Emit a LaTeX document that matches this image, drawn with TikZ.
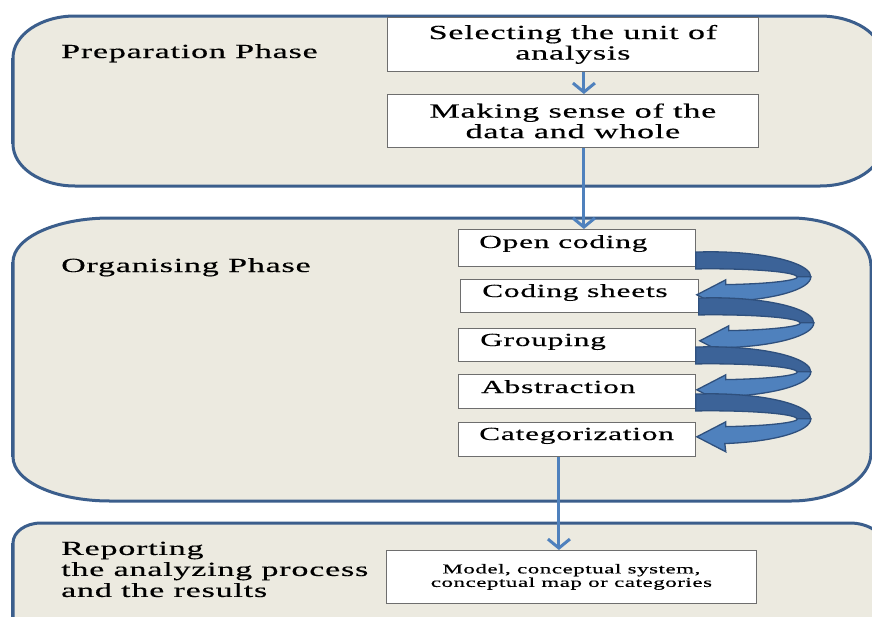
\documentclass[tikz,border=0pt]{standalone}
\usepackage{fontspec}
\setmainfont{Liberation Serif}[FakeStretch=1.7,LetterSpace=4,FakeBold=0.4]
\usetikzlibrary{arrows.meta}
\definecolor{panelfill}{RGB}{236,234,224}
\definecolor{panelline}{RGB}{59,94,140}
\definecolor{connblue}{RGB}{79,129,189}
\definecolor{bandback}{RGB}{60,99,152}
\definecolor{bandedge}{RGB}{47,80,125}
\definecolor{boxline}{RGB}{110,110,110}
\newcommand{\phasepanel}[8]{%
  \draw[panel] (#1+#5,#2) -- (#3-#7,#2)
    arc[start angle=-90,end angle=0,x radius=#7,y radius=#8] -- (#3,#4-#8)
    arc[start angle=0,end angle=90,x radius=#7,y radius=#8] -- (#1+#5,#4)
    arc[start angle=90,end angle=180,x radius=#5,y radius=#6] -- (#1,#2+#6)
    arc[start angle=180,end angle=270,x radius=#5,y radius=#6] -- cycle;
  \draw[panelline, line width=2pt] (#1-1.5,#2+#6) -- (#1-1.5,#4-#6);}
\tikzset{
  panel/.style={fill=panelfill, draw=panelline, line width=3pt},
  wbox/.style={draw=boxline, fill=white, line width=0.8pt, inner sep=0pt, anchor=north west},
  bigtext/.style={font=\fontsize{20}{20.5}\selectfont},
  orgtext/.style={font=\fontsize{18.5}{20}\selectfont, inner sep=0pt, anchor=base west},
  smalltext/.style={font=\fontsize{13.5}{13.5}\selectfont},
  connector/.style={draw=connblue, line width=3pt, -{Straight Barb[length=9pt,width=22pt]}},
  backband/.style={fill=bandback, draw=bandedge, line width=1.3pt},
  frontband/.style={fill=connblue, draw=bandedge, line width=1.3pt},
}
\begin{document}
\begin{tikzpicture}[x=1pt,y=-1pt]
\useasboundingbox (0,0) rectangle (872,616);
\clip (0,0) rectangle (872,616);
\fill[white] (0,0) rectangle (872,616);

% panels
\phasepanel{13}{16}{882}{186}{62}{42}{62}{40}
\phasepanel{13}{218}{871}{501}{97}{44}{80}{48}
\phasepanel{13}{523}{885}{660}{28}{20}{35}{25}

% preparation boxes
\node[wbox, bigtext, align=center, minimum width=371, minimum height=54] (b1) at (387,17) {Selecting the unit of\\analysis};
\node[wbox, bigtext, align=center, minimum width=371, minimum height=53] (b2) at (387,94) {Making sense of the\\data and whole};

% organising boxes
\node[wbox, minimum width=237, minimum height=37] (oc) at (458,229) {};
\node[wbox, minimum width=238, minimum height=33] (cs) at (460,279) {};
\node[wbox, minimum width=237, minimum height=33] (gr) at (458,328) {};
\node[wbox, minimum width=237, minimum height=34] (ab) at (458,374) {};
\node[wbox, minimum width=237, minimum height=34] (ca) at (458,422) {};
\node[orgtext] (oct) at ([shift={(21,19)}]oc.north west) {Open coding};
\node[orgtext] (cst) at ([shift={(22,18)}]cs.north west) {Coding sheets};
\node[orgtext] (grt) at ([shift={(22,18)}]gr.north west) {Grouping};
\node[orgtext] (abt) at ([shift={(23,19)}]ab.north west) {Abstraction};
\node[orgtext] (cat) at ([shift={(21,18)}]ca.north west) {Categorization};

% reporting box
\node[wbox, smalltext, align=center, minimum width=370, minimum height=53] (mo) at (386,550) {Model, conceptual system,\\conceptual map or categories};

% connectors
\draw[connector] ([xshift=11pt]b1.south) -- ([xshift=11pt]b2.north);
\draw[connector] ([xshift=11pt]b2.south) -- ([xshift=11pt]b2.south |- oc.north);
\draw[connector] ([xshift=-18pt]ca.south) -- ([xshift=-18pt]ca.south |- mo.north);

% curved arrows
\foreach \a in {oc,cs,gr,ab}{
  \begin{scope}[shift={(\a.south east)}]
    \filldraw[backband] (0,-14.7) arc[start angle=-98.63,end angle=0,x radius=100,y radius=25]
      -- (101,10) arc[start angle=0,end angle=-100.04,x radius=86,y radius=8] -- cycle;
    \filldraw[frontband] (115,10) arc[start angle=0,end angle=81.95,x radius=100,y radius=25]
      -- (30,43) -- (1,28) -- (30,13) -- (30,17.8)
      arc[start angle=80.6,end angle=0,x radius=86,y radius=8] -- cycle;
  \end{scope}
}

% phase labels
\node[bigtext, anchor=base west, inner sep=0pt] (pp) at (61,58) {Preparation Phase};
\node[bigtext, anchor=base west, inner sep=0pt] (op) at (61,272) {Organising Phase};
\node[font=\fontsize{20}{21}\selectfont, anchor=north west, align=left, inner sep=0pt] (rp) at (61,541.5) {Reporting\\the analyzing process\\and the results};
\end{tikzpicture}
\end{document}
